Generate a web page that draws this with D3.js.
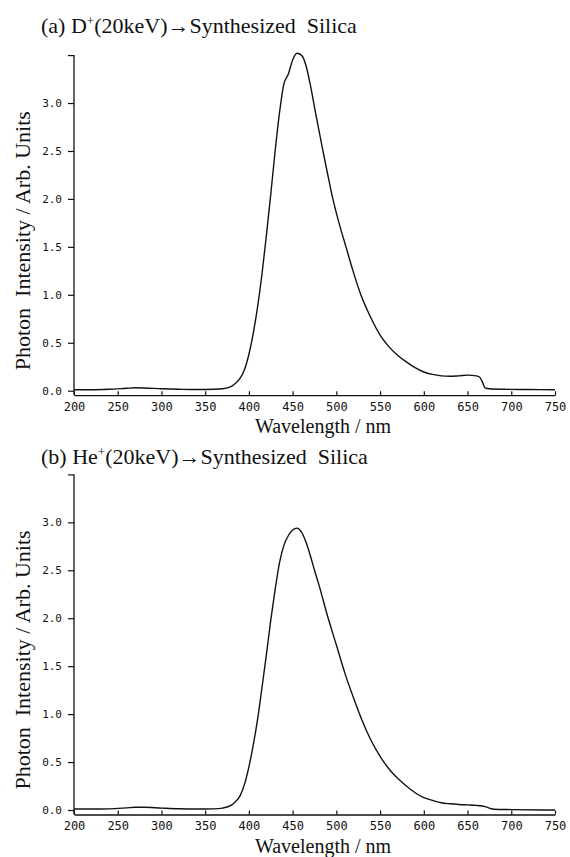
<!DOCTYPE html>
<html>
<head>
<meta charset="utf-8">
<script src="https://cdn.jsdelivr.net/npm/d3@7"></script>
<style>
  body { margin: 0; background: #fff; }
  text { white-space: pre; }
</style>
</head>
<body>
<div id="chart"></div>
<script>
// ---- data ----
const xTicks = [200, 250, 300, 350, 400, 450, 500, 550, 600, 650, 700, 750];
const yTicks = [0, 0.5, 1.0, 1.5, 2.0, 2.5, 3.0, 3.5];

const titleA = "Synthesized  Silica";
const wlA = [200,220,240,260,270,280,300,320,340,360,370,380,385,390,395,400,405,410,415,420,425,430,435,440,445,450,455,460,465,470,477,484,490,496,503,511,519,528,540,550,560,570,580,590,600,610,620,630,640,650,660,664,667,670,675,690,720,750];
const intA = [0.01,0.01,0.015,0.025,0.03,0.028,0.02,0.015,0.012,0.015,0.02,0.045,0.08,0.13,0.22,0.38,0.6,0.88,1.22,1.62,2.05,2.5,2.9,3.2,3.3,3.45,3.52,3.5,3.4,3.2,2.86,2.53,2.26,2.0,1.75,1.5,1.25,1.0,0.75,0.58,0.46,0.37,0.3,0.24,0.195,0.17,0.155,0.15,0.155,0.162,0.155,0.14,0.09,0.03,0.02,0.015,0.012,0.01];

const wlB = [200,220,240,260,270,280,300,320,340,360,370,380,385,390,395,400,405,410,415,420,425,430,435,440,445,450,455,460,465,470,475,480,490,500,510,520,530,540,550,560,570,580,590,600,610,620,630,640,650,660,670,675,680,700,750];
const intB = [0.01,0.01,0.012,0.022,0.028,0.028,0.02,0.013,0.01,0.012,0.02,0.05,0.09,0.15,0.27,0.45,0.68,0.95,1.28,1.62,1.98,2.3,2.58,2.76,2.86,2.92,2.94,2.9,2.8,2.66,2.5,2.35,2.02,1.72,1.42,1.16,0.92,0.72,0.56,0.43,0.33,0.25,0.18,0.13,0.1,0.075,0.065,0.058,0.053,0.048,0.035,0.02,0.008,0.004,0.0];

const W = 570, H = 857;
const svg = d3.select("#chart").append("svg")
    .attr("width", W).attr("height", H)
    .style("font-family", "'Liberation Serif', 'DejaVu Serif', serif");

// one panel: label, ion, data, vertical position of zero line
function drawPanel(letter, ion, wl, vals, zeroY, titleY) {
    const x = d3.scaleLinear().domain([200, 750]).range([74, 555]);
    const y = d3.scaleLinear().domain([0, 3.5]).range([zeroY, zeroY - 335.6]);
    const axisY = zeroY + 4.5;

    const g = svg.append("g");

    // title
    const t = g.append("text")
        .attr("x", 41).attr("y", titleY)
        .attr("font-size", "22px").attr("fill", "#111");
    t.append("tspan").text(`(${letter}) ${ion}`);
    t.append("tspan").attr("dy", -8).attr("font-size", "13px").text("+");
    t.append("tspan").attr("dy", 8).text("(20keV)\u2192" + titleA);

    // y axis (ticks out to the left)
    const yAxis = g.append("g")
        .attr("transform", `translate(${x(200)},0)`)
        .call(d3.axisLeft(y).tickValues(yTicks).tickSize(6).tickPadding(6)
            .tickFormat(d => d >= 3.5 ? "" : d3.format(".1f")(d)));
    yAxis.select(".domain").remove();
    yAxis.append("line").attr("x1", 0).attr("x2", 0)
        .attr("y1", y(3.5)).attr("y2", axisY)
        .attr("stroke", "#111").attr("stroke-width", 1.3);
    yAxis.selectAll("text")
        .attr("font-family", "'DejaVu Sans Mono', monospace")
        .attr("font-size", "11px").attr("fill", "#111");
    yAxis.selectAll(".tick line").attr("stroke", "#111").attr("stroke-width", 1.2);

    // x axis (ticks point up into the plot)
    const xAxis = g.append("g")
        .attr("transform", `translate(0,${axisY})`)
        .call(d3.axisBottom(x).tickValues(xTicks).tickSize(0).tickPadding(7));
    xAxis.select(".domain").attr("stroke", "#111").attr("stroke-width", 1.3);
    xAxis.selectAll(".tick line").attr("y2", -4).attr("stroke", "#111").attr("stroke-width", 1.2);
    xAxis.selectAll("text")
        .attr("font-family", "'DejaVu Sans Mono', monospace")
        .attr("font-size", "12px").attr("fill", "#111");

    // axis titles
    g.append("text")
        .attr("x", 323).attr("y", axisY + 38)
        .attr("text-anchor", "middle").attr("font-size", "20px").attr("fill", "#111")
        .text("Wavelength / nm");
    g.append("text")
        .attr("transform", `translate(30,${zeroY - 150}) rotate(-90)`)
        .attr("text-anchor", "middle").attr("font-size", "22px").attr("fill", "#111")
        .text("Photon  Intensity / Arb. Units");

    // spectrum
    const line = d3.line()
        .x((d, i) => x(wl[i]))
        .y(d => y(d))
        .curve(d3.curveMonotoneX);
    g.append("path")
        .datum(vals)
        .attr("d", line)
        .attr("fill", "none")
        .attr("stroke", "#111")
        .attr("stroke-width", 1.4);
}

drawPanel("a", "D", wlA, intA, 390.7, 33);
drawPanel("b", "He", wlB, intB, 810, 464);
</script>
</body>
</html>
